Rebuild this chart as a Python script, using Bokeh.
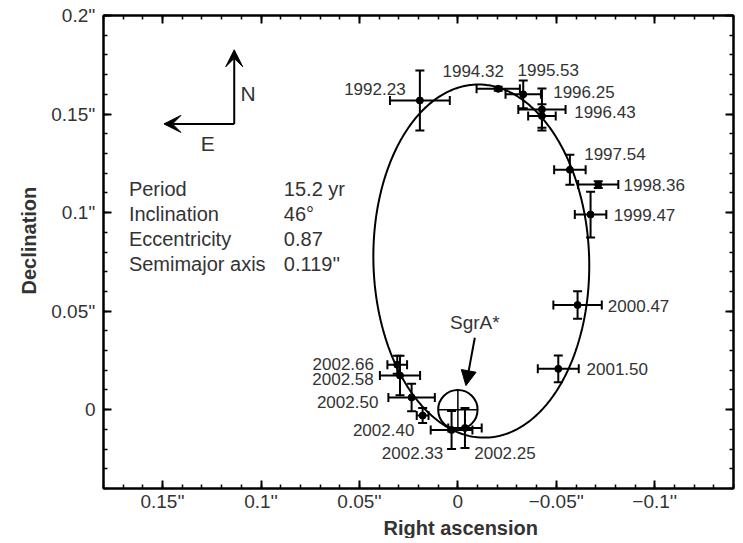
import numpy as np
from bokeh.plotting import figure
from bokeh.models import (ColumnDataSource, Range1d, FixedTicker, LinearAxis, Whisker,
                          TeeHead, Arrow, NormalHead, VeeHead, Title)
from bokeh.core.properties import value
from bokeh.embed import file_html
from bokeh.resources import INLINE

# ---------------- data ----------------
years = ["1992.23", "1994.32", "1995.53", "1996.25", "1996.43", "1997.54", "1998.36",
         "1999.47", "2000.47", "2001.50", "2002.25", "2002.33", "2002.40", "2002.50",
         "2002.58", "2002.66"]
ra = [0.0193, -0.0205, -0.0332, -0.0427, -0.0427, -0.0569, -0.0713,
      -0.0674, -0.0608, -0.0510, -0.0036, 0.0032, 0.0179, 0.0235,
      0.0294, 0.0308]
dec = [0.1569, 0.1628, 0.1600, 0.1523, 0.1490, 0.1217, 0.1142,
       0.0990, 0.0531, 0.0207, -0.0093, -0.0103, -0.0030, 0.0062,
       0.0173, 0.0228]
ra_err = [0.0152, 0.0110, 0.0090, 0.0120, 0.0070, 0.0080, 0.0102,
          0.0080, 0.0123, 0.0104, 0.0085, 0.0106, 0.0030, 0.0118,
          0.0102, 0.0050]
dec_err = [0.0152, 0.0010, 0.0070, 0.0107, 0.0060, 0.0076, 0.0017,
           0.0116, 0.0070, 0.0068, 0.0102, 0.0096, 0.0038, 0.0070,
           0.0100, 0.0046]

x_ticks = [0.15, 0.1, 0.05, 0.0, -0.05, -0.1]
x_tick_labels = ["0.15''", "0.1''", "0.05''", "0", "\u22120.05''", "\u22120.1''"]
y_ticks = [0.0, 0.05, 0.1, 0.15, 0.2]
y_tick_labels = ["0", "0.05''", "0.1''", "0.15''", "0.2''"]

param_names = ["Period", "Inclination", "Eccentricity", "Semimajor axis"]
param_values = ["15.2 yr", "46\u00b0", "0.87", "0.119''"]

# projected orbit (apparent ellipse)
orbit_center = (-0.0119, 0.0754)
orbit_semi_major = 0.0896
orbit_semi_minor = 0.0548
orbit_tilt_deg = 1.5
sgra_radius = 0.01

# ---------------- layout / style ----------------
label_dx = [-45, -25, 25, 42, 63, 45, 56, 54, 61, 59, 40, -39, -39, -64, -57, -54]
label_dy = [-11, -18, -24, -18, -4, -16, 0, 0, 1, 0, 25, 23, 14, 5, 3, -1]

FONT = "Liberation Sans"
TXT = "#333333"

p = figure(frame_width=630, frame_height=473,
           x_range=Range1d(0.18, -0.14), y_range=Range1d(-0.04, 0.2),
           output_backend="svg", toolbar_location=None,
           min_border_left=103, min_border_top=15, min_border_right=5, min_border_bottom=50,
           background_fill_color="white", border_fill_color="white")
p.xgrid.visible = False
p.ygrid.visible = False
p.outline_line_color = "black"
p.outline_line_width = 2

x_minor = list(np.round(np.arange(-0.14, 0.1801, 0.01), 2))
y_minor = list(np.round(np.arange(-0.04, 0.2001, 0.01), 2))


def style_axis(ax, ticks, minor, labels, show_labels):
    ax.ticker = FixedTicker(ticks=ticks, minor_ticks=minor)
    ax.axis_line_width = 2
    ax.axis_line_color = "black"
    ax.major_tick_in = 8
    ax.major_tick_out = 0
    ax.minor_tick_in = 4
    ax.minor_tick_out = 0
    ax.major_tick_line_width = 2
    ax.minor_tick_line_width = 1.5
    ax.major_tick_line_color = "black"
    ax.minor_tick_line_color = "black"
    ax.major_label_text_font = FONT
    ax.major_label_text_color = TXT
    if show_labels:
        ax.major_label_overrides = dict(zip(ticks, labels))
        ax.major_label_text_font_size = "19px"
    else:
        ax.major_label_overrides = {t: "" for t in ticks}
        ax.major_label_text_font_size = "1px"
        ax.major_label_standoff = 0


style_axis(p.xaxis[0], x_ticks, x_minor, x_tick_labels, True)
style_axis(p.yaxis[0], y_ticks, y_minor, y_tick_labels, True)
p.xaxis[0].major_label_standoff = 2
p.yaxis[0].major_label_standoff = 8

top = LinearAxis()
style_axis(top, x_ticks, x_minor, x_tick_labels, False)
p.add_layout(top, "above")
right = LinearAxis()
style_axis(right, y_ticks, y_minor, y_tick_labels, False)
p.add_layout(right, "right")

# axis titles (placed as titles so they can sit off-centre like the original)
p.add_layout(Title(text="Right ascension", align="left", offset=280, standoff=0,
                   text_font=FONT, text_font_size="20px", text_font_style="bold",
                   text_color=TXT), "below")
p.add_layout(Title(text="Declination", align="left", offset=194, standoff=17,
                   text_font=FONT, text_font_size="20px", text_font_style="bold",
                   text_color=TXT), "left")

# orbit
t = np.linspace(0, 2 * np.pi, 500)
th = np.radians(orbit_tilt_deg)
ox = orbit_center[0] + orbit_semi_major * np.cos(t) * np.sin(th) + orbit_semi_minor * np.sin(t) * np.cos(th)
oy = orbit_center[1] + orbit_semi_major * np.cos(t) * np.cos(th) - orbit_semi_minor * np.sin(t) * np.sin(th)
p.line(ox, oy, line_color="black", line_width=2)

# SgrA* symbol
p.ellipse(x=[0], y=[0], width=2 * sgra_radius, height=2 * sgra_radius,
          fill_color=None, line_color="black", line_width=2)
p.segment(x0=[-sgra_radius, 0], y0=[0, -sgra_radius], x1=[sgra_radius, 0], y1=[0, sgra_radius],
          line_color="black", line_width=1.5)

# data with error bars
src = ColumnDataSource(dict(
    x=ra, y=dec, year=years,
    xl=[a - e for a, e in zip(ra, ra_err)], xu=[a + e for a, e in zip(ra, ra_err)],
    yl=[a - e for a, e in zip(dec, dec_err)], yu=[a + e for a, e in zip(dec, dec_err)],
    dx=label_dx, dy=label_dy))

p.add_layout(Whisker(source=src, base="y", lower="xl", upper="xu", dimension="width",
                     line_width=2, line_color="black",
                     lower_head=TeeHead(size=9, line_width=2, line_color="black"),
                     upper_head=TeeHead(size=9, line_width=2, line_color="black")))
p.add_layout(Whisker(source=src, base="x", lower="yl", upper="yu", dimension="height",
                     line_width=2, line_color="black",
                     lower_head=TeeHead(size=9, line_width=2, line_color="black"),
                     upper_head=TeeHead(size=9, line_width=2, line_color="black")))
p.scatter("x", "y", source=src, size=7, color="black")

p.text(x="x", y="y", text="year", x_offset="dx", y_offset="dy", source=src,
       text_align="center", text_baseline="middle", text_font=value(FONT),
       text_font_size="17px", text_color=TXT)

# parameters block
row_y0, row_step = 0.1122, -0.0127
rows_y = [row_y0 + i * row_step for i in range(len(param_names))]
p.text(x=[0.1671] * len(param_names), y=rows_y, text=param_names, text_align="left",
       text_baseline="middle", text_font=value(FONT), text_font_size="20px", text_color=TXT)
p.text(x=[0.0884] * len(param_values), y=rows_y, text=param_values, text_align="left",
       text_baseline="middle", text_font=value(FONT), text_font_size="20px", text_color=TXT)

# compass
cx, cy = 0.1136, 0.1450
p.add_layout(Arrow(x_start=cx, y_start=cy, x_end=cx, y_end=0.1826, line_width=2,
                   end=VeeHead(size=17, fill_color="black", line_color="black")))
p.add_layout(Arrow(x_start=cx, y_start=cy, x_end=0.1493, y_end=cy, line_width=2,
                   end=VeeHead(size=17, fill_color="black", line_color="black")))
p.text(x=[0.1066, 0.1270], y=[0.1604, 0.1350], text=["N", "E"], text_align="center",
       text_baseline="middle", text_font=value(FONT), text_font_size="21px", text_color=TXT)

# SgrA* pointer
p.text(x=[-0.0086], y=[0.0442], text=["SgrA*"], text_align="center", text_baseline="middle",
       text_font=value(FONT), text_font_size="19px", text_color=TXT)
p.add_layout(Arrow(x_start=-0.0086, y_start=0.0365, x_end=-0.0041, y_end=0.0122, line_width=2,
                   end=NormalHead(size=15, fill_color="black", line_color="black")))

open("out.html", "w").write(file_html(p, INLINE))
